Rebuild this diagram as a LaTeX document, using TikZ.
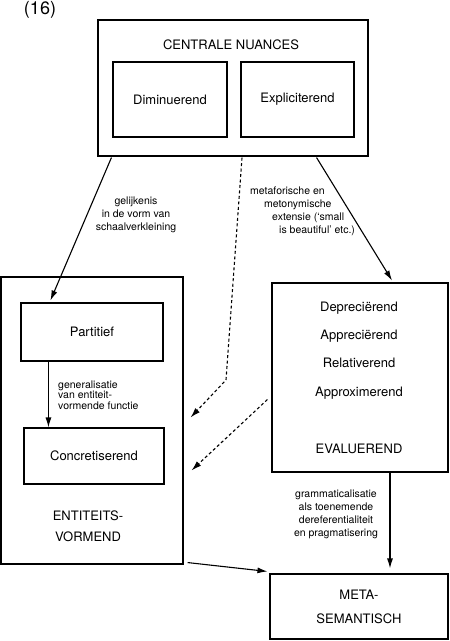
\documentclass[tikz,border=0pt]{standalone}
\usepackage{fontspec}
\setmainfont{TeX Gyre Heros}
\usetikzlibrary{arrows.meta,calc}

\begin{document}
\begin{tikzpicture}[x=1pt,y=1pt,yscale=-1,xscale=1,
    box/.style={draw,line width=1.1pt,inner sep=0pt},
    txt/.style={font=\fontsize{13}{15}\selectfont,align=center,inner sep=0pt},
    lbl/.style={font=\fontsize{10.5}{13}\selectfont,inner sep=0pt},
    arr/.style={line width=1.1pt,-{Latex[length=10pt,width=6pt]}},
    darr/.style={arr,dashed,dash pattern=on 3pt off 2.5pt}]
  \useasboundingbox (0,0) rectangle (450,641);
  \node [font=\fontsize{18}{20}\selectfont,inner sep=0pt] (nr) at (40,10) {(16)};
  % centrale nuances
  \node [box,minimum width=270pt,minimum height=136pt] (cn) at (233,88) {};
  \node [txt] (cntxt) at (231,45) {CENTRALE NUANCES};
  \node [box,txt,minimum width=114pt,minimum height=75pt] (dim) at (170,99.5) {Diminuerend};
  \node [box,txt,minimum width=113pt,minimum height=75pt] (expl) at (297.5,99.5) {Expliciterend};
  % entiteitsvormend
  \node [box,minimum width=182pt,minimum height=287pt] (ent) at (92,420.5) {};
  \node [box,txt,minimum width=142pt,minimum height=58pt] (part) at (92,332) {Partitief};
  \node [box,txt,minimum width=140pt,minimum height=56pt] (conc) at (94,456) {Concretiserend};
  \node [txt,font=\fontsize{13}{21}\selectfont] (enttxt) at (88,526.5) {ENTITEITS-\\VORMEND};
  % evaluerend
  \node [box,minimum width=176pt,minimum height=189pt] (eval) at (360,377.5) {};
  \node [txt,font=\fontsize{13}{28.3}\selectfont] (evtxt) at (359,350.5) {Depreci\"erend\\Appreci\"erend\\Relativerend\\Approximerend};
  \node [txt] (evlbl) at (359,449) {EVALUEREND};
  % metasemantisch
  \node [box,txt,font=\fontsize{13}{24}\selectfont,minimum width=178pt,minimum height=65pt] (meta) at (359,606.5) {META-\\SEMANTISCH};

  % connectors
  \draw [arr] ($(cn.south west)+(14,1)$) -- ($(part.north west)+(30,-2)$);
  \coordinate (bend) at (226,380);
  \draw [darr] ($(cn.south)+(9,1)$) -- (bend) -- ($(ent.east)+(7,-3)$);
  \draw [arr] ($(cn.south east)+(-52,1)$) -- ($(eval.north)+(32,-2)$);
  \draw [darr] ($(eval.west)+(-4,22)$) -- ($(conc.north east)+(27,43)$);
  \draw [arr] ($(part.south west)+(28,0)$) -- ($(conc.north west)+(25,0)$);
  \draw [arr] ($(eval.south)+(30,0)$) -- ($(meta.north)+(31,-5)$);
  \draw [arr] ($(ent.south east)+(4,-2)$) -- ($(meta.north west)+(-2,-2)$);

  % labels
  \node [lbl,align=center] (l1) at (136,215) {gelijkenis\\in de vorm van\\schaalverkleining};
  \node [lbl,align=left,anchor=west] (l2) at (250,211.5) {metaforische en\\\hspace*{14pt}metonymische\\\hspace*{22pt}extensie (`small\\\hspace*{29pt}is beautiful' etc.)};
  \node [lbl,align=left,anchor=west,font=\fontsize{10.5}{10.7}\selectfont] (l3) at (58,395) {generalisatie\\van entiteit-\\vormende functie};
  \node [lbl,align=center] (l4) at (336,514.5) {grammaticalisatie\\als toenemende\\dereferentialiteit\\en pragmatisering};
\end{tikzpicture}
\end{document}
